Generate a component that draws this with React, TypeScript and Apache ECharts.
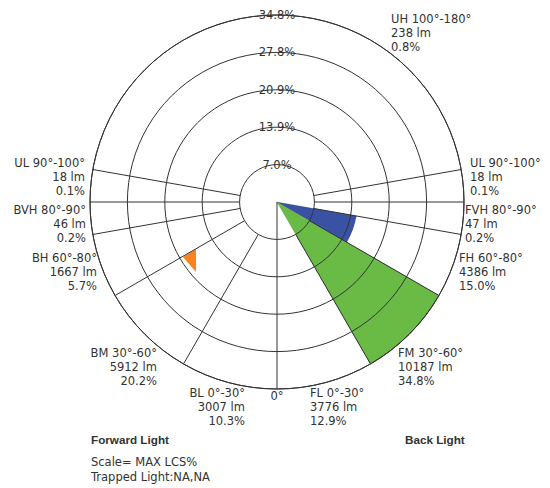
import React, { useEffect, useRef } from 'react';
import * as echarts from 'echarts';

// ---- data ----
const ringLabels = ['7.0%', '13.9%', '20.9%', '27.8%', '34.8%'];
const maxPercent = 34.8;
const ringInterval = 6.96;

const zoneNames = ['UH 100°-180°', 'UL 90°-100°', 'FVH 80°-90°', 'FH 60°-80°', 'FM 30°-60°', 'FL 0°-30°', 'BL 0°-30°', 'BM 30°-60°', 'BH 60°-80°', 'BVH 80°-90°', 'UL 90°-100°'];
const zoneLumens = [238, 18, 47, 4386, 10187, 3776, 3007, 5912, 1667, 46, 18];
const zonePercents = ['0.8%', '0.1%', '0.2%', '15.0%', '34.8%', '12.9%', '10.3%', '20.2%', '5.7%', '0.2%', '0.1%'];

// filled wedges (right side): percent, from nadir angle, to nadir angle
const wedgeNames = ['FH', 'FM'];
const wedgeValues = [15.0, 34.8];
const wedgeFrom = [60, 30];
const wedgeTo = [80, 60];

// orange BH shape (left side): percent radius and nadir angle of each vertex
const bhShapeRadius = [17.43, 20.27, 19.92];
const bhShapeNadir = [59.87, 59.67, 49.2];

// zone boundary lines (nadir angles), drawn on both sides
const boundaryNadir = [30, 60, 80, 90, 100];

const titles = ['Forward Light', 'Back Light'];
const notes = ['Scale= MAX LCS%', 'Trapped Light:NA,NA'];

// ---- styles ----
const wedgeColors = ['#3a52a3', '#6abb46'];
const orangeColor = '#f7841f';
const lineColor = '#333';
const textColor = '#333';
const FONT = '"DejaVu Sans", Verdana, sans-serif';

const rightAngle = (n: number) => 180 - n;
const leftAngle = (n: number) => 180 + n;

export default function App() {
  const ref = useRef<HTMLDivElement>(null);
  useEffect(() => {
    if (!ref.current) return;
    const chart = echarts.init(ref.current, undefined, { renderer: 'svg' });

    const wedgeData = wedgeValues.map((v, i) => [v, rightAngle(wedgeFrom[i]), rightAngle(wedgeTo[i]), i]);
    const spokeData: number[][] = [[0, maxPercent, 180]];
    boundaryNadir.forEach((n) => {
      spokeData.push([ringInterval, maxPercent, rightAngle(n)]);
      spokeData.push([ringInterval, maxPercent, leftAngle(n)]);
    });
    const bhData = bhShapeRadius.map((r, i) => [r, leftAngle(bhShapeNadir[i])]);

    const labelText = (i: number) => `${zoneNames[i]}\n${zoneLumens[i]} lm\n${zonePercents[i]}`;
    const mk = (i: number, x: number, yCenter: number, align: string) => ({
      type: 'text',
      style: {
        text: labelText(i), x, y: yCenter - 7, fill: textColor,
        font: `11.5px ${FONT}`, align, textAlign: align, verticalAlign: 'top', textVerticalAlign: 'top', lineHeight: 14,
      },
    });
    const plain = (text: string, x: number, yCenter: number, align: string, font: string) => ({
      type: 'text',
      style: { text, x, y: yCenter, fill: textColor, font, align, textAlign: align, verticalAlign: 'middle', textVerticalAlign: 'middle' },
    });

    const option: any = {
      animation: false,
      polar: { center: [277, 202], radius: 187 },
      angleAxis: {
        type: 'value', min: 0, max: 360, interval: 90, startAngle: 90, clockwise: true, z: 10,
        axisLine: { show: true, lineStyle: { color: lineColor, width: 1 } },
        axisTick: { show: false }, axisLabel: { show: false }, splitLine: { show: false },
      },
      radiusAxis: {
        type: 'value', min: 0, max: maxPercent, interval: ringInterval, z: 10,
        axisLine: { show: false }, axisTick: { show: false },
        splitLine: { show: true, lineStyle: { color: lineColor, width: 1 } },
        axisLabel: {
          show: true, margin: 0, align: 'center', verticalAlign: 'middle',
          color: textColor, fontSize: 11.5, fontFamily: FONT,
          formatter: (v: number, idx: number) => (idx === 0 ? '' : ringLabels[idx - 1] || ''),
        },
      },
      series: [
        {
          type: 'custom', coordinateSystem: 'polar', z: 2, silent: true,
          encode: { radius: 0, angle: 1 },
          data: wedgeData,
          renderItem: (params: any, api: any) => {
            const v = api.value(0), a1 = api.value(1), a2 = api.value(2), ci = api.value(3);
            const c = api.coord([0, a1]);
            const p1 = api.coord([v, a1]);
            const p2 = api.coord([v, a2]);
            const r = Math.hypot(p1[0] - c[0], p1[1] - c[1]);
            const s1 = Math.atan2(p1[1] - c[1], p1[0] - c[0]);
            const s2 = Math.atan2(p2[1] - c[1], p2[0] - c[0]);
            return {
              type: 'sector',
              shape: { cx: c[0], cy: c[1], r0: 0, r, startAngle: Math.min(s1, s2), endAngle: Math.max(s1, s2), clockwise: true },
              style: { fill: wedgeColors[ci], stroke: 'rgba(0,0,0,0.25)', lineWidth: 0.5 },
            };
          },
        },
        {
          type: 'custom', coordinateSystem: 'polar', z: 2, silent: true,
          encode: { radius: 0, angle: 1 },
          data: [0],
          renderItem: (params: any, api: any) => {
            const pts = bhData.map((d) => api.coord(d));
            return { type: 'polygon', shape: { points: pts }, style: { fill: orangeColor } };
          },
        },
        {
          type: 'custom', coordinateSystem: 'polar', z: 3, silent: true,
          encode: { radius: 0, angle: 2 },
          data: spokeData,
          renderItem: (params: any, api: any) => {
            const p1 = api.coord([api.value(0), api.value(2)]);
            const p2 = api.coord([api.value(1), api.value(2)]);
            return {
              type: 'line',
              shape: { x1: p1[0], y1: p1[1], x2: p2[0], y2: p2[1] },
              style: { stroke: lineColor, lineWidth: 1 },
            };
          },
        },
      ],
      graphic: [
        mk(0, 391, 19, 'left'),
        mk(1, 470, 163, 'left'),
        mk(2, 465, 210, 'left'),
        mk(3, 459, 258, 'left'),
        mk(4, 398, 353, 'left'),
        mk(5, 310, 393, 'left'),
        mk(6, 245, 393, 'right'),
        mk(7, 157, 353, 'right'),
        mk(8, 97, 258, 'right'),
        mk(9, 86, 210, 'right'),
        mk(10, 85, 163, 'right'),
        plain('0°', 277, 396, 'center', `11.5px ${FONT}`),
        plain(titles[0], 91, 439, 'left', `bold 11.7px "Liberation Sans", Arial, sans-serif`),
        plain(titles[1], 405, 439, 'left', `bold 11.7px "Liberation Sans", Arial, sans-serif`),
        plain(notes[0], 91, 462, 'left', `11.5px ${FONT}`),
        plain(notes[1], 91, 477, 'left', `11.5px ${FONT}`),
      ],
    };
    chart.setOption(option);
    return () => chart.dispose();
  }, []);
  return <div ref={ref} style={{ position: 'fixed', left: 0, top: 0, width: 550, height: 488, background: '#fff' }} />;
}
